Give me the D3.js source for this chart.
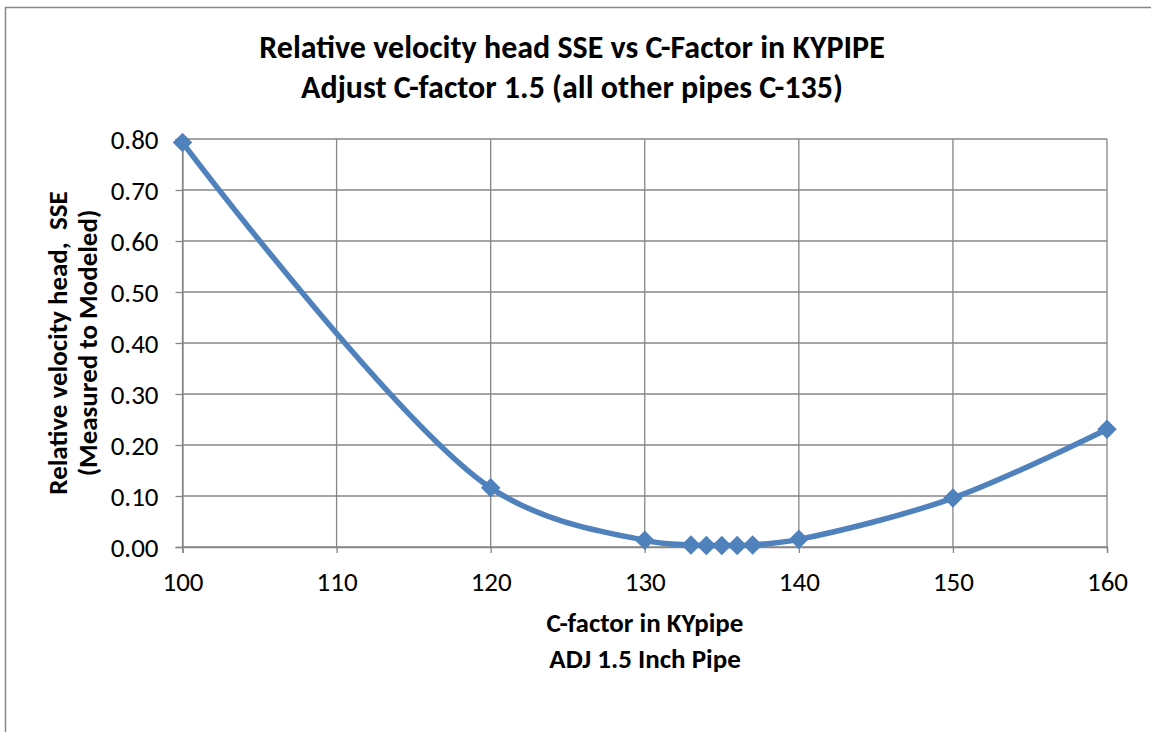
<!DOCTYPE html>
<html>
<head>
<meta charset="utf-8">
<script src="https://cdn.jsdelivr.net/npm/d3@7"></script>
<style>
  html, body { margin: 0; padding: 0; background: #fff; }
  svg { display: block; }
  text { font-family: Carlito, Calibri, Lato, "Open Sans", sans-serif; fill: #000; white-space: pre; }
</style>
</head>
<body>
<svg id="chart" width="1151" height="732"></svg>
<script>
const cFactor = [100, 120, 130, 133, 134, 135, 136, 137, 140, 150, 160];
const sse     = [0.793, 0.116, 0.013, 0.004, 0.003, 0.003, 0.003, 0.004, 0.015, 0.096, 0.231];
const xTicks = [100, 110, 120, 130, 140, 150, 160];
const yTicks = [0, 0.1, 0.2, 0.3, 0.4, 0.5, 0.6, 0.7, 0.8];
const titleLines = ["Relative velocity head SSE vs C-Factor in KYPIPE", "Adjust C-factor 1.5 (all other pipes C-135)"];
const xTitleLines = ["C-factor in KYpipe", "ADJ 1.5 Inch Pipe"];
const yTitleLines = ["Relative velocity head,  SSE", "(Measured to Modeled)"];

const svg = d3.select("#chart");
const grid = "#868686";
const lineColor = "#4F81BD";
const fontStack = "Carlito, Calibri, Lato, sans-serif";

// chart border
svg.append("rect").attr("x", 5.5).attr("y", 7.5).attr("width", 1200).attr("height", 800)
  .attr("fill", "none").attr("stroke", grid).attr("stroke-width", 1.5);

const x = d3.scaleLinear().domain([100, 160]).range([182.5, 1107]);
const y = d3.scaleLinear().domain([0, 0.8]).range([547, 139]);

// gridlines
svg.append("g").selectAll("line").data(yTicks).join("line")
  .attr("x1", x(100)).attr("x2", x(160)).attr("y1", d => y(d)).attr("y2", d => y(d))
  .attr("stroke", grid).attr("stroke-width", 1.3);
svg.append("g").selectAll("line").data(xTicks).join("line")
  .attr("x1", d => x(d)).attr("x2", d => x(d)).attr("y1", y(0.8)).attr("y2", y(0))
  .attr("stroke", grid).attr("stroke-width", 1.3);

// axes
const xAxis = svg.append("g").attr("transform", `translate(0,${y(0)})`)
  .call(d3.axisBottom(x).tickValues(xTicks).tickSize(6).tickFormat(d3.format("d")));
const yAxis = svg.append("g").attr("transform", `translate(${x(100)},0)`)
  .call(d3.axisLeft(y).tickValues(yTicks).tickSize(7).tickFormat(d3.format(".2f")));
[xAxis, yAxis].forEach(g => {
  g.select(".domain").attr("stroke", grid).attr("stroke-width", 1.3);
  g.selectAll(".tick line").attr("stroke", grid).attr("stroke-width", 1.3);
  g.selectAll(".tick text").attr("font-size", 27).attr("font-family", fontStack).attr("fill", "#000");
});
xAxis.selectAll(".tick text").attr("y", 44).attr("dy", 0);
yAxis.selectAll(".tick text").attr("x", -24).attr("dy", "0.36em");

// line
const line = d3.line().x((d, i) => x(cFactor[i])).y(d => y(d)).curve(d3.curveCatmullRom.alpha(0.5));
svg.append("path").datum(sse).attr("d", line).attr("fill", "none")
  .attr("stroke", lineColor).attr("stroke-width", 5.5).attr("stroke-linejoin", "round");

// markers
const sym = d3.symbol().type(d3.symbolSquare).size(190);
svg.append("g").selectAll("path").data(sse).join("path")
  .attr("d", sym)
  .attr("transform", (d, i) => `translate(${x(cFactor[i])},${y(d)}) rotate(45)`)
  .attr("fill", lineColor);

// titles
svg.append("g").selectAll("text").data(titleLines).join("text")
  .attr("x", 572).attr("y", (d, i) => 58 + i * 40).attr("text-anchor", "middle")
  .attr("font-size", 32).attr("font-weight", "bold").text(d => d);

svg.append("g").selectAll("text").data(xTitleLines).join("text")
  .attr("x", 645).attr("y", (d, i) => 632 + i * 36).attr("text-anchor", "middle")
  .attr("font-size", 27).attr("font-weight", "bold").text(d => d);

svg.append("g").attr("transform", "translate(0,343) rotate(-90)")
  .selectAll("text").data(yTitleLines).join("text")
  .attr("x", 0).attr("y", (d, i) => 67 + i * 30).attr("text-anchor", "middle")
  .attr("font-size", 27).attr("font-weight", "bold").text(d => d);
</script>
</body>
</html>
